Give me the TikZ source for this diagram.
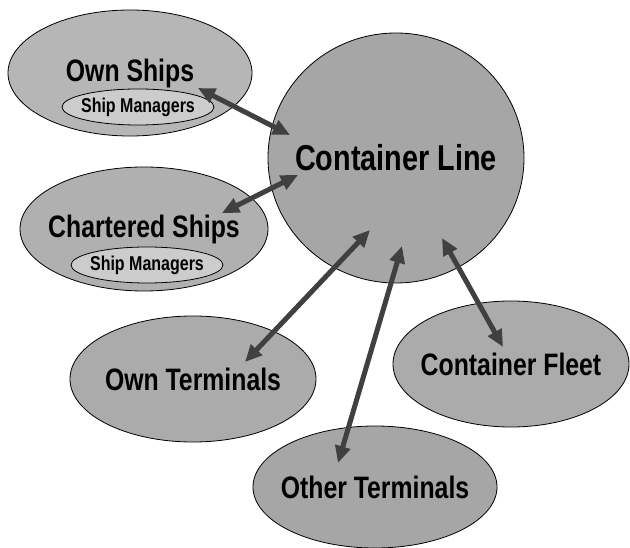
\documentclass[tikz,border=0pt]{standalone}
\usepackage{fontspec}
\setmainfont{Liberation Sans}[FakeStretch=0.8]
\usetikzlibrary{shapes,arrows.meta,positioning}
\definecolor{linegray}{RGB}{166,166,166}
\definecolor{shipgray}{RGB}{182,182,182}
\definecolor{chartgray}{RGB}{176,176,176}
\definecolor{mgrgray}{RGB}{204,204,204}
\definecolor{portgray}{RGB}{171,171,171}
\definecolor{arrowgray}{RGB}{64,64,64}
% text that does not widen its ellipse
\newcommand{\blobtext}[1]{\makebox[0pt]{#1}}

\begin{document}
\begin{tikzpicture}[
    x=1pt, y=-1pt,
    blob/.style={ellipse, draw, line width=0.8pt, inner sep=0pt, font=\bfseries\fontsize{31}{33}\selectfont},
    mgr/.style={ellipse, draw, line width=0.8pt, inner sep=0pt, fill=mgrgray, minimum width=152pt, minimum height=36pt, font=\bfseries\fontsize{20}{22}\selectfont},
    link/.style={{Triangle[length=17pt,width=15pt]}-{Triangle[length=17pt,width=15pt]}, line width=5pt, draw=arrowgray}
]
    \useasboundingbox (0,0) rectangle (630,548);

    % Ships
    \node[blob, fill=shipgray, minimum width=244pt, minimum height=126pt] (own) at (130,73) {\blobtext{Own Ships}};
    \node[mgr] (ownmgr) at (138,107) {\blobtext{Ship Managers}};
    \node[blob, fill=chartgray, minimum width=248pt, minimum height=124pt] (chart) at (144,229) {\blobtext{Chartered Ships}};
    \node[mgr] (chartmgr) at (147,265) {\blobtext{Ship Managers}};

    % Container line
    \node[blob, fill=linegray, minimum width=256pt, minimum height=250pt, font=\bfseries\fontsize{36}{38}\selectfont] (line) at (396,158) {\blobtext{Container Line}};

    % Terminals and fleet
    \node[blob, fill=portgray, minimum width=246pt, minimum height=126pt] (ownterm) at (193,379) {\blobtext{Own Terminals}};
    \node[blob, fill=portgray, minimum width=236pt, minimum height=126pt] (fleet) at (511,364) {\blobtext{Container Fleet}};
    \node[blob, fill=linegray, minimum width=244pt, minimum height=122pt] (otherterm) at (375,487) {\blobtext{Other Terminals}};

    % Arrow ends
    \coordinate (own-e) at (198,88);
    \coordinate (line-1) at (290,135);
    \coordinate (chart-e) at (222,213);
    \coordinate (line-2) at (298,175);
    \coordinate (ownterm-e) at (245,362);
    \coordinate (line-3) at (370,230);
    \coordinate (otherterm-e) at (338,463);
    \coordinate (line-4) at (402,246);
    \coordinate (fleet-e) at (503,347);
    \coordinate (line-5) at (442,238);

    % Links
    \foreach \a/\b in {own-e/line-1, chart-e/line-2, ownterm-e/line-3, otherterm-e/line-4, fleet-e/line-5} {
        \draw[link] (\a) -- (\b);
    }
\end{tikzpicture}
\end{document}
